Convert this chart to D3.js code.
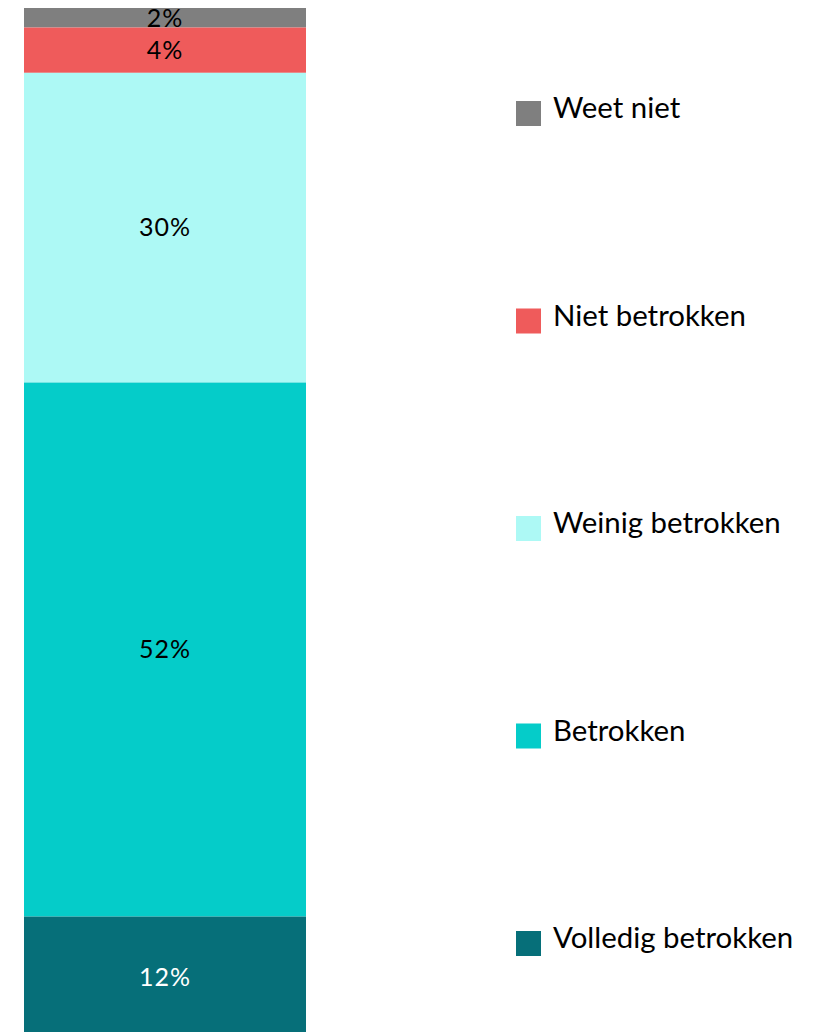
<!DOCTYPE html>
<html><head><meta charset="utf-8">
<script src="https://cdn.jsdelivr.net/npm/d3@7"></script>
<style>html,body{margin:0;padding:0;background:#fff;overflow:hidden}</style>
</head><body>
<svg id="chart" width="821" height="1032"></svg>
<script>
const categories = ["Weet niet","Niet betrokken","Weinig betrokken","Betrokken","Volledig betrokken"];
const values = [1.9, 4.4, 30.1, 51.9, 11.7];
const labels = ["2%","4%","30%","52%","12%"];
const colors = ["#7f7f7f","#ef5b5b","#adf9f5","#05ccc9","#066f79"];
const labelColors = ["#000","#000","#000","#000","#fff"];

const svg = d3.select("#chart");
const font = "Lato, 'Open Sans', sans-serif";

const y = d3.scaleLinear().domain([0, d3.sum(values)]).range([8, 1037]);
const x = d3.scaleBand().domain(["bar"]).range([24, 306]).padding(0);

let cum = 0;
const segs = values.map((v,i)=>{const s={i,cat:categories[i],v,y0:cum,y1:cum+v};cum+=v;return s;});

const g = svg.append("g");
g.selectAll("rect").data(segs).join("rect")
  .attr("x", x("bar")).attr("width", x.bandwidth())
  .attr("y", d=>y(d.y0)).attr("height", d=>y(d.y1)-y(d.y0))
  .attr("fill", d=>colors[d.i]);

g.selectAll("text").data(segs).join("text")
  .attr("x", x("bar")+x.bandwidth()/2)
  .attr("y", d=>(y(d.y0)+y(d.y1))/2)
  .attr("dy","0.35em")
  .attr("text-anchor","middle")
  .attr("font-family", font).attr("font-size", 25)
  .attr("letter-spacing", 1)
  .attr("fill", d=>labelColors[d.i])
  .text(d=>labels[d.i]);

const ly = d3.scalePoint().domain(categories).range([101, 931]);
const leg = svg.append("g").selectAll("g").data(categories).join("g")
  .attr("transform", d=>`translate(516,${ly(d)})`);
leg.append("rect").attr("width",25).attr("height",25).attr("fill",(d,i)=>colors[i]);
leg.append("text").attr("x",37).attr("y",17)
  .attr("font-family", font).attr("font-size", 29.4).attr("fill","#000")
  .text(d=>d);
</script>
</body></html>
